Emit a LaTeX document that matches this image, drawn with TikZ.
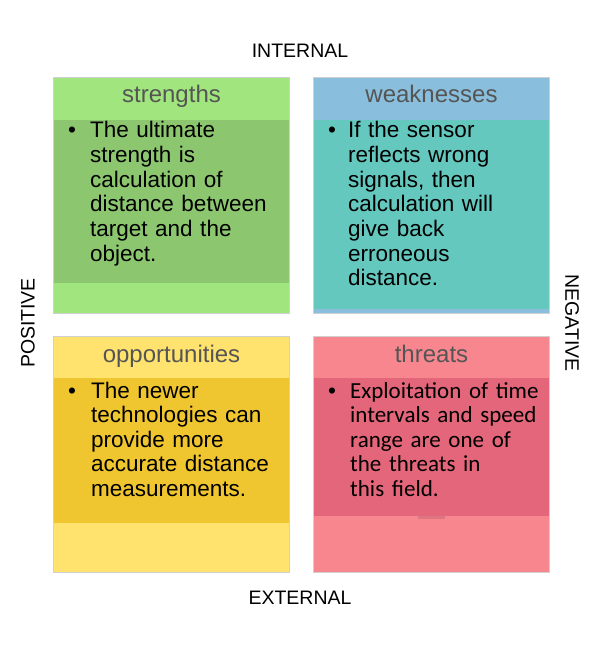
\documentclass[tikz,border=0pt]{standalone}
\usepackage{fontspec}
\setmainfont{Liberation Sans}
\newfontfamily\calibri{Carlito}
\usetikzlibrary{calc}

\definecolor{boxgray}{HTML}{D0D0D0}
\definecolor{headgray}{HTML}{555555}
\definecolor{sgreen}{HTML}{A0E57D}
\definecolor{sgreendk}{HTML}{8CC76F}
\definecolor{wblue}{HTML}{89BEDC}
\definecolor{wteal}{HTML}{64C8BE}
\definecolor{oyellow}{HTML}{FFE36E}
\definecolor{oyellowdk}{HTML}{F0C630}
\definecolor{tpink}{HTML}{F7868F}
\definecolor{tpinkdk}{HTML}{E4667A}
\definecolor{tpinktab}{HTML}{DE7582}

\tikzset{
  quad/.style={draw=boxgray, line width=1pt, minimum width=236pt, minimum height=236pt,
    inner sep=0pt, anchor=north west},
  head/.style={font=\fontsize{24}{28}\selectfont, text=headgray, anchor=base, inner sep=0pt},
  item/.style={font=\fontsize{22.5}{24.6}\selectfont, text width=205pt, align=left,
    anchor=base west, inner sep=0pt},
  bul/.style={font=\fontsize{22.5}{24.6}\selectfont, anchor=base, inner sep=0pt},
  side/.style={font=\fontsize{19.5}{22}\selectfont, inner sep=0pt}
}

\begin{document}
\begin{tikzpicture}[x=1pt, y=-1pt]
  \useasboundingbox (0,0) rectangle (614,647);
  % the four quadrants
  \node[quad, fill=sgreen] (s) at (53,77) {};
  \node[quad, fill=wblue] (w) at (313,77) {};
  \node[quad, fill=oyellow] (o) at (53,336) {};
  \node[quad, fill=tpink] (t) at (313,336) {};
  % darker text panels
  \fill[sgreendk] ($(s.north west)+(1,43)$) rectangle ($(s.north west)+(236,206)$);
  \fill[wteal] ($(w.north west)+(0.5,43)$) rectangle ($(w.north west)+(235.5,232)$);
  \fill[oyellowdk] ($(o.north west)+(1,42)$) rectangle ($(o.north west)+(236,187)$);
  \fill[tpinkdk] ($(t.north west)+(0.5,42)$) rectangle ($(t.north west)+(235.5,180)$);
  \fill[tpinktab] ($(t.north west)+(105,180)$) rectangle ($(t.north west)+(132,183)$);

  % headings
  \node[head] (sh) at ($(s.north)+(0,26)$) {strengths};
  \node[head] (wh) at ($(w.north)+(0,26)$) {weaknesses};
  \node[head] (oh) at ($(o.north)+(0,26)$) {opportunities};
  \node[head] (th) at ($(t.north)+(0,26)$) {threats};

  % bullet texts
  \node[bul] (sb) at (72,138) {\textbullet};
  \node[item] (st) at (90,138) {The ultimate\\ strength is\\ calculation of\\ distance between\\ target and the\\ object.};
  \node[bul] (wb) at (332,138) {\textbullet};
  \node[item] (wt) at (348,138) {If the sensor\\ reflects wrong\\ signals, then\\ calculation will\\ give back\\ erroneous\\ distance.};
  \node[bul] (ob) at (72,398) {\textbullet};
  \node[item] (ot) at (91,398) {The newer\\ technologies can\\ provide more\\ accurate distance\\ measurements.};
  \node[bul] (tb) at (332,398) {\textbullet};
  \node[item, font=\calibri\fontsize{23}{24.6}\selectfont] (tt) at (350,398) {Exploitation of time\\ intervals and speed\\ range are one of\\ the threats in\\ this field.};

  % axis labels
  \node[side] (internal) at (300,51) {INTERNAL};
  \node[side] (external) at (300,598) {EXTERNAL};
  \node[side, rotate=90] (positive) at (28,323) {POSITIVE};
  \node[side, rotate=-90] (negative) at (572,323) {NEGATIVE};
\end{tikzpicture}
\end{document}
